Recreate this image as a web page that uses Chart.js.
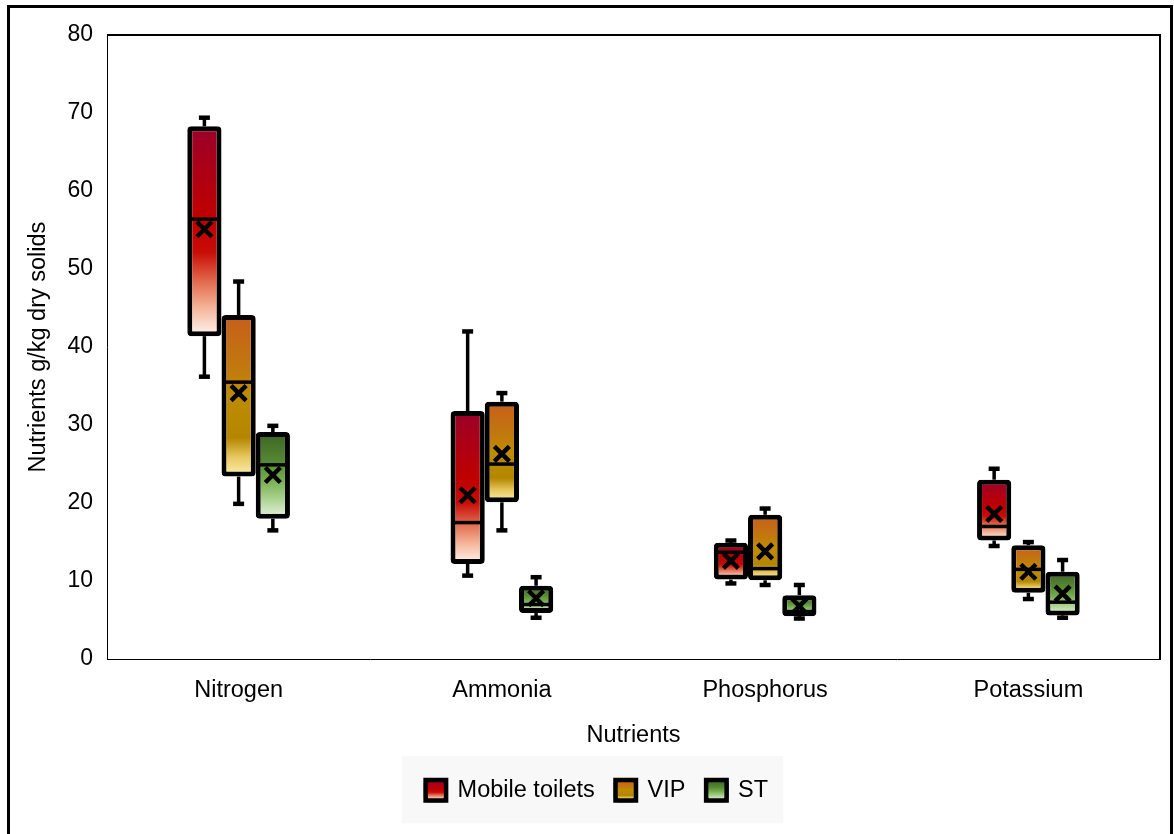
<!DOCTYPE html>
<html>
<head>
<meta charset="utf-8">
<script src="https://cdn.jsdelivr.net/npm/chart.js@4.4.1/dist/chart.umd.min.js"></script>
<style>
  html, body { margin: 0; padding: 0; background: #fff; }
  #wrap { width: 1174px; height: 834px; position: relative; }
</style>
</head>
<body>
<div id="wrap"><canvas id="myChart"></canvas></div>
<script>
// Data-----
const categories = ['Nitrogen', 'Ammonia', 'Phosphorus', 'Potassium'];
const seriesNames = ['Mobile toilets', 'VIP', 'ST'];
const yTicks = [0, 10, 20, 30, 40, 50, 60, 70, 80];

const mobileMin    = [36.2, 10.7,  9.7, 14.5];
const mobileQ1     = [41.4, 12.2, 10.2, 15.2];
const mobileMedian = [56.4, 17.5, 13.7, 17.0];
const mobileQ3     = [68.3, 31.8, 14.9, 23.0];
const mobileMax    = [69.4, 42.0, 15.2, 24.4];
const mobileMean   = [55.1, 21.0, 12.6, 18.6];

const vipMin    = [19.9, 16.5,  9.5,  7.7];
const vipQ1     = [23.4, 20.1, 10.1,  8.5];
const vipMedian = [35.5, 25.0, 11.6, 11.5];
const vipQ3     = [44.1, 33.0, 18.5, 14.6];
const vipMax    = [48.4, 34.1, 19.3, 15.0];
const vipMean   = [34.1, 26.3, 13.8, 11.2];

const stMin    = [16.5,  5.3,  5.2,  5.3];
const stQ1     = [18.0,  5.9,  5.5,  5.6];
const stMedian = [24.9,  7.0,  6.1,  7.3];
const stQ3     = [29.1,  9.4,  8.2, 11.2];
const stMax    = [29.9, 10.5,  9.5, 12.7];
const stMean   = [23.6,  7.8,  6.8,  8.4];
// Data-----

// Styles-----
const FONT = "'Liberation Sans', Arial, sans-serif";
const FONT_SIZE = 23.5;
const stats = [
    {min: mobileMin, q1: mobileQ1, median: mobileMedian, q3: mobileQ3, max: mobileMax, mean: mobileMean},
    {min: vipMin, q1: vipQ1, median: vipMedian, q3: vipQ3, max: vipMax, mean: vipMean},
    {min: stMin, q1: stQ1, median: stMedian, q3: stQ3, max: stMax, mean: stMean}
];
const gradientStops = [
    [[0, '#9a0029'], [0.45, '#c00000'], [0.6, '#c80c08'], [0.74, '#e26a4e'], [0.87, '#f5b89c'], [1, '#fff5f0']],
    [[0, '#c85e1a'], [0.3, '#c27610'], [0.5, '#bf8c00'], [0.76, '#b48600'], [0.88, '#e8c860'], [1, '#fff0b0']],
    [[0, '#3c6226'], [0.35, '#568a32'], [0.52, '#6ea846'], [0.76, '#a8d08c'], [1, '#e9f5e1']]
];
const legendColors = ['#c00000', '#c8860a', '#6aa84f'];

function makeGradient(ctx, d, top, bottom) {
    const g = ctx.createLinearGradient(0, top, 0, bottom);
    gradientStops[d].forEach(s => g.addColorStop(s[0], s[1]));
    return g;
}

function boxFill(ctx) {
    const chart = ctx.chart;
    const d = ctx.datasetIndex;
    if (ctx.type !== 'data' || !chart.chartArea) {
        return legendColors[d];
    }
    const y = chart.scales.y;
    return makeGradient(chart.ctx, d, y.getPixelForValue(ctx.raw[1]), y.getPixelForValue(ctx.raw[0]));
}
// Styles-----

// Plugins-----
const frameAndLegend = {
    id: 'frameAndLegend',
    afterLayout(chart) {
        // nudge the legend a little right, as in the original
        chart.legend.left += 12;
        chart.legend.right += 12;
    },
    beforeDraw(chart) {
        const ctx = chart.ctx;
        ctx.save();
        // outer frame
        ctx.strokeStyle = '#000';
        ctx.lineWidth = 3;
        ctx.strokeRect(8.5, 6.5, 1163, 840);
        // legend background
        const boxes = chart.legend.legendHitBoxes;
        if (boxes && boxes.length) {
            const left = Math.min(...boxes.map(b => b.left)) - 24;
            const right = Math.max(...boxes.map(b => b.left + b.width)) + 15;
            const cy = boxes[0].top + boxes[0].height / 2;
            ctx.fillStyle = '#f8f8f8';
            ctx.fillRect(left, cy - 34, right - left, 67);
        }
        ctx.restore();
    },
    afterDraw(chart) {
        const {ctx, chartArea: a} = chart;
        ctx.save();
        ctx.strokeStyle = '#000';
        ctx.lineWidth = 2;
        ctx.beginPath();
        ctx.moveTo(a.left, a.top);
        ctx.lineTo(a.right, a.top);
        ctx.lineTo(a.right, a.bottom);
        ctx.stroke();
        // gradient legend swatches
        const boxes = chart.legend.legendHitBoxes || [];
        boxes.forEach((b, d) => {
            const x = b.left;
            const yTop = b.top + Math.max((FONT_SIZE - 20) / 2, 0);
            ctx.beginPath();
            ctx.roundRect(x, yTop, 20, 20, 3);
            ctx.fillStyle = makeGradient(ctx, d, yTop, yTop + 20);
            ctx.fill();
            ctx.lineWidth = 4;
            ctx.strokeStyle = '#000';
            ctx.stroke();
        });
        ctx.restore();
    }
};

const boxExtras = {
    id: 'boxExtras',
    beforeDatasetsDraw(chart) {
        const ctx = chart.ctx;
        const y = chart.scales.y;
        ctx.save();
        ctx.strokeStyle = '#000';
        stats.forEach((s, d) => {
            chart.getDatasetMeta(d).data.forEach((bar, i) => {
                const x = bar.x;
                const ends = [[s.q3[i], s.max[i]], [s.q1[i], s.min[i]]];
                ends.forEach(([from, to]) => {
                    ctx.lineWidth = 3.5;
                    ctx.beginPath();
                    ctx.moveTo(x, y.getPixelForValue(from));
                    ctx.lineTo(x, y.getPixelForValue(to));
                    ctx.stroke();
                    ctx.lineWidth = 4.5;
                    ctx.beginPath();
                    ctx.moveTo(x - 5.5, y.getPixelForValue(to));
                    ctx.lineTo(x + 5.5, y.getPixelForValue(to));
                    ctx.stroke();
                });
            });
        });
        ctx.restore();
    },
    afterDatasetsDraw(chart) {
        const ctx = chart.ctx;
        const y = chart.scales.y;
        ctx.save();
        ctx.strokeStyle = '#000';
        stats.forEach((s, d) => {
            chart.getDatasetMeta(d).data.forEach((bar, i) => {
                const x = bar.x;
                const half = bar.width / 2 - 2.5;
                const my = y.getPixelForValue(s.median[i]);
                ctx.lineWidth = 3.5;
                ctx.beginPath();
                ctx.moveTo(x - half, my);
                ctx.lineTo(x + half, my);
                ctx.stroke();
                const ay = y.getPixelForValue(s.mean[i]);
                const r = 7.5;
                ctx.lineWidth = 4.5;
                ctx.beginPath();
                ctx.moveTo(x - r, ay - r);
                ctx.lineTo(x + r, ay + r);
                ctx.moveTo(x + r, ay - r);
                ctx.lineTo(x - r, ay + r);
                ctx.stroke();
            });
        });
        ctx.restore();
    }
};
// Plugins-----

// Config-----
const config = {
    type: 'bar',
    data: {
        labels: categories,
        datasets: stats.map((s, d) => ({
            label: seriesNames[d],
            data: s.q1.map((v, i) => [v, s.q3[i]]),
            backgroundColor: boxFill,
            borderColor: '#000',
            borderWidth: 5,
            borderRadius: 4,
            borderSkipped: false,
            categoryPercentage: 0.39,
            barPercentage: 1.0
        }))
    },
    options: {
        responsive: true,
        maintainAspectRatio: false,
        animation: false,
        layout: {
            padding: {left: 10, right: 14, top: 35, bottom: 22}
        },
        plugins: {
            tooltip: {enabled: false},
            legend: {
                position: 'bottom',
                labels: {
                    boxWidth: 20,
                    boxHeight: 20,
                    padding: 21,
                    color: '#000',
                    font: {family: FONT, size: FONT_SIZE}
                }
            }
        },
        scales: {
            x: {
                grid: {display: false, drawTicks: false},
                border: {display: true, color: '#000', width: 1},
                ticks: {color: '#000', padding: 17, font: {family: FONT, size: FONT_SIZE}},
                title: {
                    display: true,
                    text: 'Nutrients',
                    color: '#000',
                    font: {family: FONT, size: FONT_SIZE},
                    padding: {top: 0, bottom: 8}
                }
            },
            y: {
                min: 0,
                max: 80,
                afterBuildTicks(scale) {
                    scale.ticks = yTicks.map(v => ({value: v}));
                },
                grid: {display: false, drawTicks: false},
                border: {display: true, color: '#000', width: 1},
                ticks: {color: '#000', padding: 14, font: {family: FONT, size: 23}},
                title: {
                    display: true,
                    text: 'Nutrients g/kg dry solids',
                    color: '#000',
                    font: {family: FONT, size: FONT_SIZE},
                    padding: {top: 14, bottom: 0}
                },
                afterFit(scale) {
                    scale.width = 97;
                }
            }
        }
    },
    plugins: [frameAndLegend, boxExtras]
};
// Config-----

var myChart = new Chart(
    document.getElementById('myChart'),
    config
);
</script>
</body>
</html>
